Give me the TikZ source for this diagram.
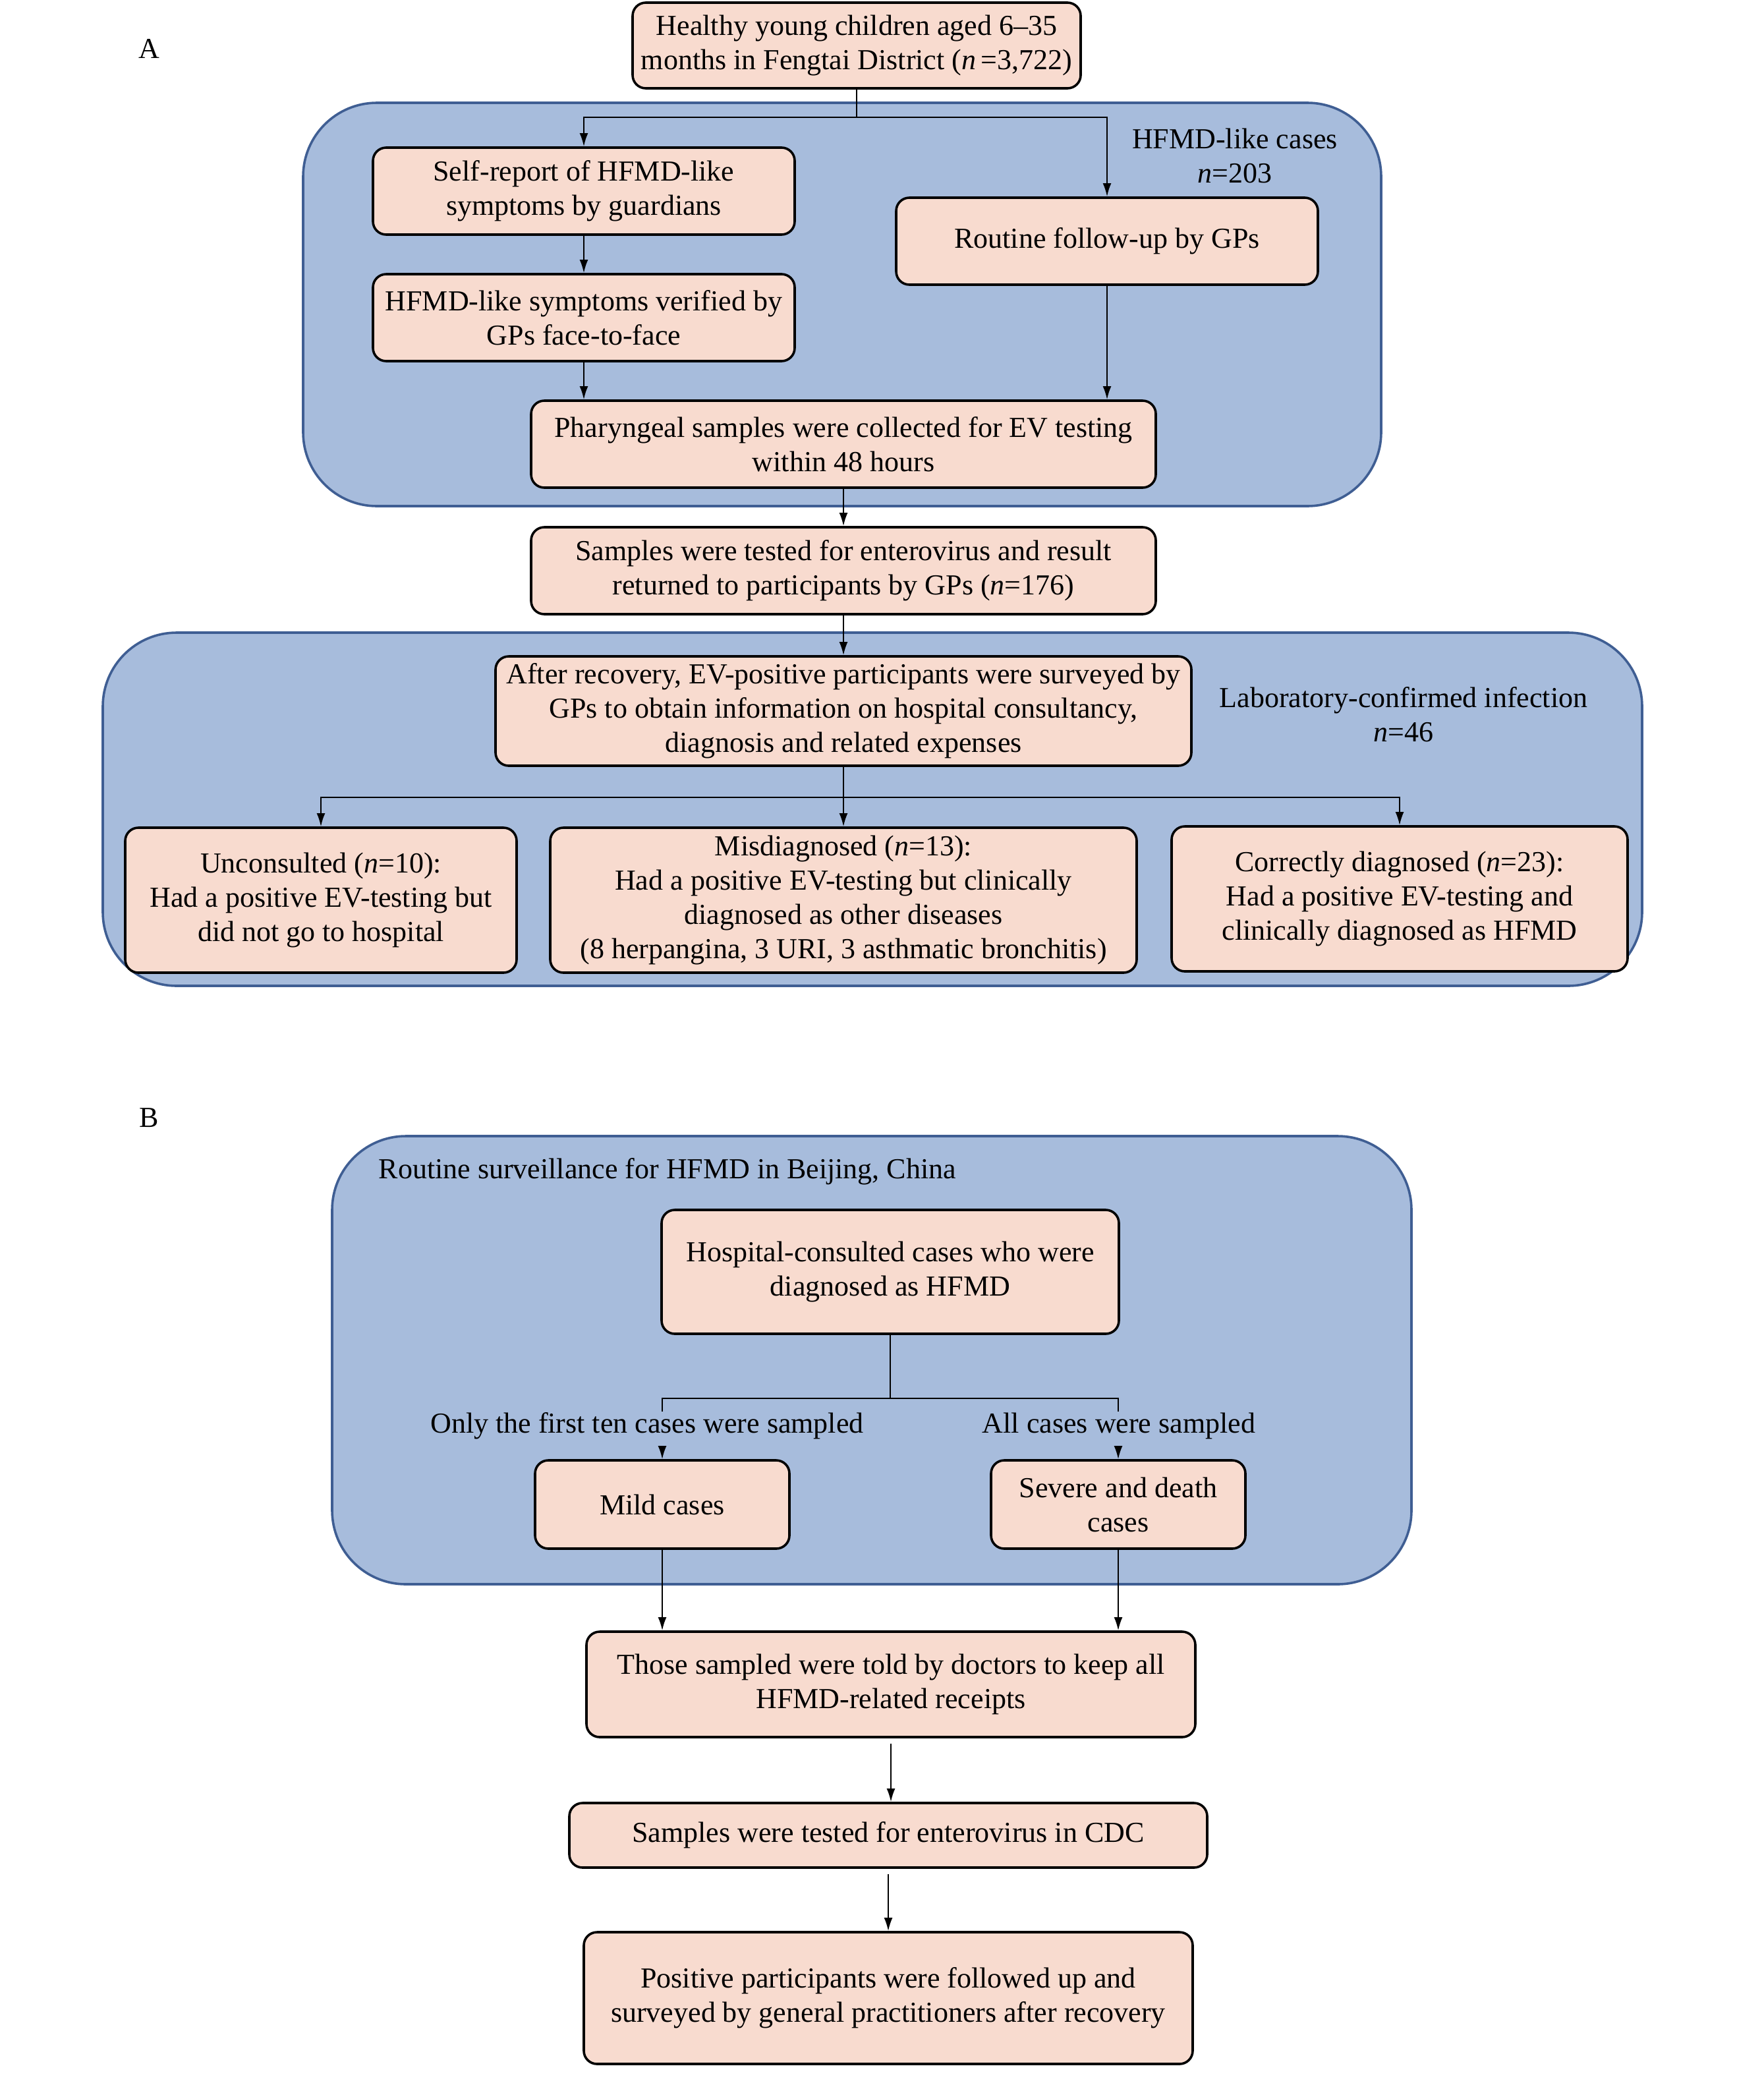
\documentclass[tikz,border=0pt]{standalone}
\usepackage{fontspec}
\setmainfont{Liberation Serif}
\usetikzlibrary{arrows.meta}
\definecolor{peach}{HTML}{F8DBCF}
\definecolor{panel}{HTML}{A7BCDC}
\definecolor{panelline}{HTML}{3F5E93}
\tikzset{
  box/.style={draw=black, fill=peach, line width=0.9pt, rounded corners=5pt, align=center, inner sep=0pt},
  panelbox/.style={draw=panelline, fill=panel, line width=0.9pt, rounded corners=28pt},
  lbl/.style={align=center, inner sep=0pt},
  conn/.style={line width=0.5pt, draw=black},
  arr/.style={conn, -{Latex[length=5pt,width=3.2pt]}}
}
\begin{document}
\begin{tikzpicture}[x=0.5pt,y=-0.5pt,font=\fontsize{11}{13}\selectfont]
\useasboundingbox (0,0) rectangle (1338.5,1585);
\fill[white] (0,0) rectangle (1338.5,1585);
% panels
\draw[panelbox] (230,78) rectangle (1048,384);
\draw[panelbox] (78,480) rectangle (1246,748);
\draw[panelbox] (252,862) rectangle (1071,1202);
% labels
\node[lbl] (labA) at (113,37) {A};
\node[lbl] (labB) at (113,848) {B};
\node[lbl] (hfmdlike) at (937,118) {HFMD-like cases\\\textit{n}=203};
\node[lbl] (labconf) at (1065,542) {Laboratory-confirmed infection\\\textit{n}=46};
\node[lbl, anchor=west] (routsurv) at (287,889) {Routine surveillance for HFMD in Beijing, China};
\node[lbl] (mildlab) at (491,1082) {Only the first ten cases were sampled};
\node[lbl] (sevlab) at (849,1082) {All cases were sampled};
% boxes A
\node[box, minimum width=170pt, minimum height=32.5pt] (top) at (650,34.5) {Healthy young children aged 6–35\\months in Fengtai District (\textit{n}\,=3,722)};
\node[box, minimum width=160pt, minimum height=33pt] (selfrep) at (443,145) {Self-report of HFMD-like\\symptoms by guardians};
\node[box, minimum width=160pt, minimum height=33pt] (routine) at (840,183) {Routine follow-up by GPs};
\node[box, minimum width=160pt, minimum height=33pt] (verified) at (443,241) {HFMD-like symptoms verified by\\GPs face-to-face};
\node[box, minimum width=237pt, minimum height=33pt] (pharyn) at (640,337) {Pharyngeal samples were collected for EV testing\\within 48 hours};
\node[box, minimum width=237pt, minimum height=33pt] (samples) at (640,433) {Samples were tested for enterovirus and result\\returned to participants by GPs (\textit{n}=176)};
\node[box, minimum width=264pt, minimum height=41.5pt] (after) at (640,539.5) {After recovery, EV-positive participants were surveyed by\\GPs to obtain information on hospital consultancy,\\diagnosis and related expenses};
\node[box, minimum width=148.5pt, minimum height=55pt] (uncons) at (243.5,683) {Unconsulted (\textit{n}=10):\\Had a positive EV-testing but\\did not go to hospital};
\node[box, minimum width=222.5pt, minimum height=55pt] (misdiag) at (640,683) {Misdiagnosed (\textit{n}=13):\\Had a positive EV-testing but clinically\\diagnosed as other diseases\\(8 herpangina, 3 URI, 3 asthmatic bronchitis)};
\node[box, minimum width=173pt, minimum height=55pt] (correct) at (1062,682) {Correctly diagnosed (\textit{n}=23):\\Had a positive EV-testing and\\clinically diagnosed as HFMD};
% boxes B
\node[box, minimum width=173.5pt, minimum height=47pt] (hosp) at (675.5,965) {Hospital-consulted cases who were\\diagnosed as HFMD};
\node[box, minimum width=96.5pt, minimum height=33.5pt] (mild) at (502.5,1141.5) {Mild cases};
\node[box, minimum width=96.5pt, minimum height=33.5pt] (severe) at (848.5,1141.5) {Severe and death\\cases};
\node[box, minimum width=231pt, minimum height=40pt] (those) at (676,1278) {Those sampled were told by doctors to keep all\\HFMD-related receipts};
\node[box, minimum width=242pt, minimum height=24.5pt] (cdc) at (674,1392.5) {Samples were tested for enterovirus in CDC};
\node[box, minimum width=231pt, minimum height=50pt] (positive) at (674,1516) {Positive participants were followed up and\\surveyed by general practitioners after recovery};
% connectors A
\coordinate (j1) at (650,89);
\draw[conn] (top.south) -- (j1);
\draw[arr] (j1) -| (selfrep.north);
\draw[arr] (j1) -| (routine.north);
\draw[arr] (selfrep.south) -- (verified.north);
\draw[arr] (verified.south) -- (verified.south |- pharyn.north);
\draw[arr] (routine.south) -- (routine.south |- pharyn.north);
\draw[arr] (pharyn.south) -- (samples.north);
\draw[arr] (samples.south) -- (after.north);
\coordinate (j2) at (640,605);
\draw[conn] (after.south) -- (j2);
\draw[arr] (j2) -| (uncons.north);
\draw[arr] (j2) -- (misdiag.north);
\draw[arr] (j2) -| (correct.north);
% connectors B
\coordinate (j3) at (675.5,1061);
\coordinate (m1) at (502.5,1071);
\coordinate (m2) at (502.5,1099);
\coordinate (s1) at (848.5,1071);
\coordinate (s2) at (848.5,1099);
\draw[conn] (hosp.south) -- (j3);
\draw[conn] (j3) -| (m1);
\draw[conn] (j3) -| (s1);
\draw[arr] (m2) -- (mild.north);
\draw[arr] (s2) -- (severe.north);
\draw[arr] (mild.south) -- (mild.south |- those.north);
\draw[arr] (severe.south) -- (severe.south |- those.north);
\draw[arr, shorten <=2pt] (those.south) -- (those.south |- cdc.north);
\draw[arr, shorten <=2pt] (cdc.south) -- (positive.north);
\end{tikzpicture}
\end{document}
